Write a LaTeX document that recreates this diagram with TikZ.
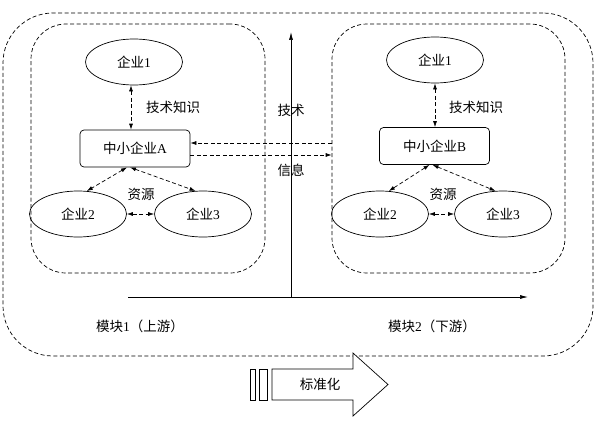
\documentclass[tikz,border=0pt]{standalone}
\usepackage{fontspec}
\setmainfont{Liberation Serif}
\newfontfamily\cjk{Noto Sans CJK SC}
\usetikzlibrary{arrows.meta,shapes.geometric}
\newcommand\zh[1]{{\cjk #1}}
\begin{document}
\begin{tikzpicture}[x=1pt,y=-1pt,
  every node/.style={font=\fontsize{13.5}{15}\selectfont},
  dsh/.style={dash pattern=on 4pt off 2.5pt},
  box/.style={draw, dsh, line width=0.7pt},
  firm/.style={draw, ellipse, line width=0.7pt, minimum width=97pt, minimum height=46pt, inner sep=0pt},
  sme/.style={draw, rounded corners=4pt, line width=0.7pt, minimum width=110pt, minimum height=37pt},
  darr/.style={dsh, line width=0.7pt, {Latex[length=6pt,width=4pt]}-{Latex[length=6pt,width=4pt]}},
  sarr/.style={dsh, line width=0.7pt, -{Latex[length=6pt,width=4pt]}},
  axis/.style={line width=0.7pt, -{Latex[length=8pt,width=4pt]}},
  lbl/.style={inner sep=1pt}
]
\useasboundingbox (0,0) rectangle (596,420);
% outer and inner boxes
\node[box, rounded corners=50pt, minimum width=590pt, minimum height=343pt] (outer) at (298,184.5) {};
\node[box, rounded corners=35pt, minimum width=234pt, minimum height=249pt] (L) at (148,148.5) {};
\node[box, rounded corners=35pt, minimum width=233pt, minimum height=249pt] (R) at (448.5,148.5) {};
% left module
\node[firm] (l1) at (134,62) {\zh{企业}1};
\node[sme] (A) at (135,148.5) {\zh{中小企业}A};
\node[firm] (l2) at (78,214) {\zh{企业}2};
\node[firm] (l3) at (203,214) {\zh{企业}3};
\draw[darr] ([xshift=-3pt]l1.south) -- ([xshift=-4pt]A.north);
\node[lbl] (lk) at (173,107) {\zh{技术知识}};
\draw[darr] ([xshift=-8pt]A.south) -- (l2.69);
\draw[darr] ([xshift=-5pt]A.south) -- (l3.108);
\draw[darr] (l2.east) -- (l3.west);
\node[lbl] (lr) at (141,194) {\zh{资源}};
% right module
\node[firm] (r1) at (435,60) {\zh{企业}1};
\node[sme] (B) at (434.5,146) {\zh{中小企业}B};
\node[firm] (r2) at (380,214) {\zh{企业}2};
\node[firm] (r3) at (503,214) {\zh{企业}3};
\draw[darr] (r1.south) -- (r1.south |- B.north);
\node[lbl] (rk) at (476,107) {\zh{技术知识}};
\draw[darr] ([xshift=-5pt]B.south) -- (r2.69);
\draw[darr] ([xshift=-2pt]B.south) -- (r3.108);
\draw[darr] (r2.east) -- (r3.west);
\node[lbl] (rr) at (443,194) {\zh{资源}};
% information flow between A and B
\draw[sarr] ([yshift=-6.5pt]A.east) -- ([yshift=-6.5pt]A.east -| R.west);
\draw[sarr] ([yshift=5.5pt]A.east -| R.west) -- ([yshift=5.5pt]A.east);
% axes
\coordinate (O) at (291,297);
\coordinate (ytop) at (291,32);
\coordinate (xl) at (128,297);
\coordinate (xr) at (528,297);
\draw[axis] (O) -- (ytop);
\draw[axis] (xl) -- (xr);
\node[lbl] (tech) at (291,110) {\zh{技术}};
\node[lbl] (info) at (291,170) {\zh{信息}};
% module labels
\node[lbl] (m1) at (140,326) {\zh{模块}1\zh{（上游）}};
\node[lbl] (m2) at (432,326) {\zh{模块}2\zh{（下游）}};
% standardisation arrow
\draw[line width=0.7pt] (250,369) rectangle (255.5,400);
\draw[line width=0.7pt] (259,369) rectangle (267,400);
\draw[line width=0.7pt, fill=white] (272,369) -- (353,369) -- (353,353) -- (388,384.5) -- (353,416) -- (353,400) -- (272,400) -- cycle;
\node[lbl] (std) at (320,384.5) {\zh{标准化}};
\end{tikzpicture}
\end{document}
